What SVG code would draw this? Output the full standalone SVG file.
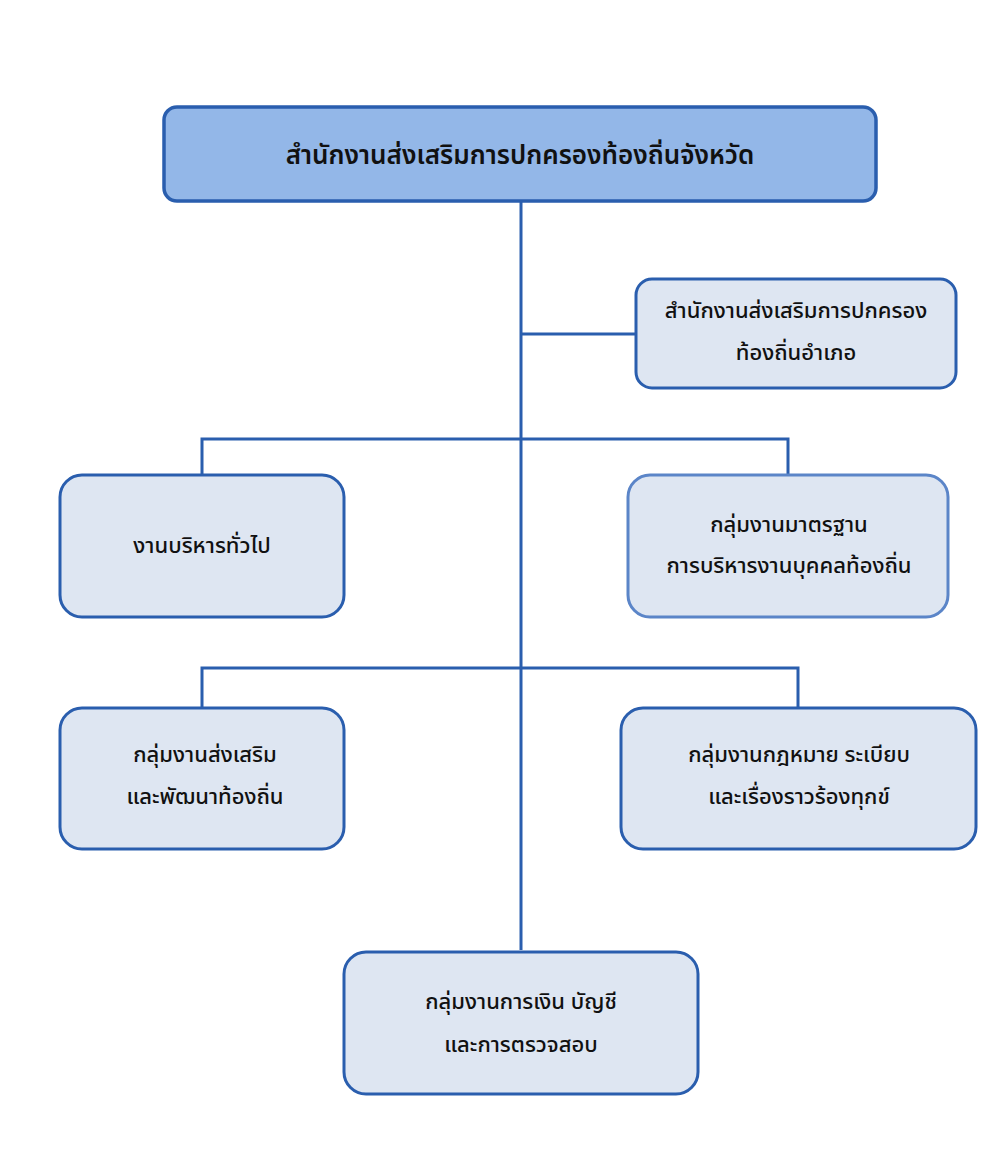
<svg xmlns="http://www.w3.org/2000/svg" width="1000" height="1167" viewBox="0 0 1000 1167">
<style>
.box{fill:#dee6f2;stroke:#2a5eae;stroke-width:3}
.top{fill:#93b7e8;stroke:#2a5eae;stroke-width:3.5}
.light{stroke:#5b85c8}
.ln{fill:none;stroke:#2a5eae;stroke-width:3}
text{font-family:"Noto Sans Thai","Noto Sans","DejaVu Sans",sans-serif;fill:#111;text-anchor:middle;font-size:22px;font-weight:500}
.t{font-size:26px;font-weight:600}
</style>
<rect width="1000" height="1167" fill="#fff"/>
<g id="connectors">
<path class="ln" d="M521 200V950"/>
<path class="ln" d="M521 334H636"/>
<path class="ln" d="M202 475V439H788V475"/>
<path class="ln" d="M202 708V668H798V708"/>
</g>
<g id="n1"><rect class="top" x="164" y="107" width="712" height="94" rx="13"/><text class="t" x="520" y="164">สำนักงานส่งเสริมการปกครองท้องถิ่นจังหวัด</text></g>
<g id="n2"><rect class="box" x="636" y="279" width="320" height="109" rx="16"/><text x="796" y="318">สำนักงานส่งเสริมการปกครอง</text><text x="796" y="360">ท้องถิ่นอำเภอ</text></g>
<g id="n3"><rect class="box" x="60" y="475" width="284" height="142" rx="22"/><text x="202" y="553">งานบริหารทั่วไป</text></g>
<g id="n4"><rect class="box light" x="628" y="475" width="320" height="142" rx="22"/><text x="789" y="532">กลุ่มงานมาตรฐาน</text><text x="789" y="573">การบริหารงานบุคคลท้องถิ่น</text></g>
<g id="n5"><rect class="box" x="60" y="708" width="284" height="141" rx="22"/><text x="205" y="762">กลุ่มงานส่งเสริม</text><text x="205" y="804">และพัฒนาท้องถิ่น</text></g>
<g id="n6"><rect class="box" x="621" y="708" width="355" height="141" rx="22"/><text x="799" y="762">กลุ่มงานกฎหมาย ระเบียบ</text><text x="799" y="804">และเรื่องราวร้องทุกข์</text></g>
<g id="n7"><rect class="box" x="344" y="952" width="354" height="142" rx="22"/><text x="521" y="1009">กลุ่มงานการเงิน บัญชี</text><text x="521" y="1052">และการตรวจสอบ</text></g>
</svg>
